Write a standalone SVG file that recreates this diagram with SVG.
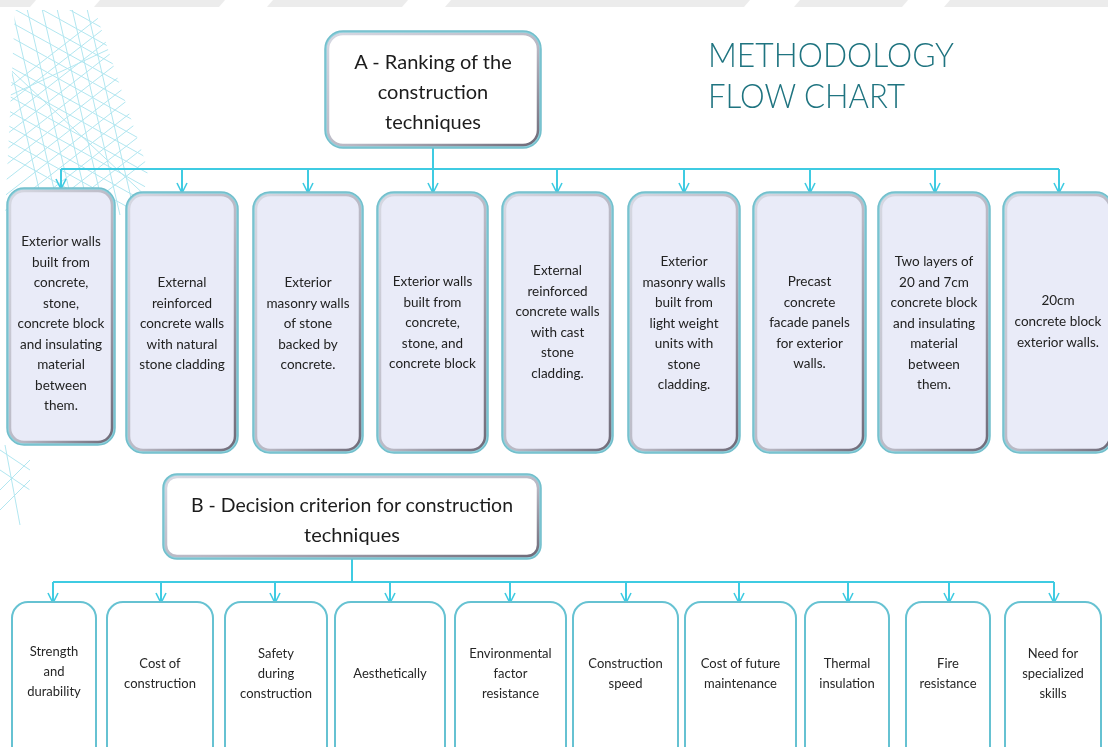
<svg xmlns="http://www.w3.org/2000/svg" width="1108" height="747" viewBox="0 0 1108 747">
<defs>
<style>
.tb{font-family:Lato,"Noto Sans","Liberation Sans",sans-serif;font-size:13.5px;fill:#222222;text-anchor:middle}
.bb{font-family:Lato,"Noto Sans","Liberation Sans",sans-serif;font-size:13px;fill:#262626;text-anchor:middle}
.hd{font-family:Lato,"Noto Sans","Liberation Sans",sans-serif;font-size:20px;fill:#1c1c1c;text-anchor:middle}
.ttl{font-family:Lato,"Open Sans","Liberation Sans",sans-serif;font-weight:300;font-size:34px;fill:#1f7480}
.con{stroke:#3fcbe2;stroke-width:2;fill:none}
.arr{stroke:#3fcbe2;stroke-width:2;fill:none;marker-end:url(#ah)}
.outer{fill:#8fd0dc;stroke:#72bfcc;stroke-width:1.5}
.inner{stroke:url(#sh);stroke-width:2.5}
.lav{fill:#e9ebf8}
.wh{fill:#ffffff}
.crit{fill:#ffffff;stroke:#66c2d2;stroke-width:2}
.hatch{stroke:#7fd6e6;stroke-width:1;fill:none;opacity:0.6}
</style>
<linearGradient id="sh" x1="0" y1="0" x2="1" y2="1">
<stop offset="0" stop-color="#d6d8e2"/>
<stop offset="0.55" stop-color="#b9b8c4"/>
<stop offset="1" stop-color="#6f6a78"/>
</linearGradient>
<marker id="ah" viewBox="0 0 12 12" refX="11" refY="6" markerWidth="12" markerHeight="12" markerUnits="userSpaceOnUse" orient="auto">
<path d="M1,1 L11,6 L1,11" fill="none" stroke="#3fcbe2" stroke-width="1.6"/>
</marker>
<clipPath id="hc1"><polygon points="15,10 95,10 148,170 140,215 5,215"/></clipPath>
<clipPath id="hc2"><polygon points="0,445 35,445 25,525 0,525"/></clipPath>
</defs>

<!-- top watermark band -->
<g id="band" fill="#ececec">
<polygon points="0,0 36,0 30,7 0,7"/>
<polygon points="100,0 225,0 219,7 94,7"/>
<polygon points="273,0 408,0 402,7 267,7"/>
<polygon points="451,0 750,0 744,7 445,7"/>
<polygon points="800,0 908,0 902,7 794,7"/>
<polygon points="950,0 1108,0 1108,7 944,7"/>
</g>

<!-- decorative hatch -->
<g id="hatch" class="hatch">
<g clip-path="url(#hc1)">
<path d="M-20,20 L160,120 M-20,35 L160,135 M-20,50 L160,150 M-20,65 L160,165 M-20,80 L160,180 M-20,95 L160,195 M-20,110 L160,210 M-20,125 L160,225 M-20,140 L160,240 M-20,5 L160,105 M-20,-10 L160,90 M-20,-25 L160,75 M-20,-40 L160,60 M-20,-55 L160,45"/>
<path d="M-20,200 L160,60 M-20,215 L160,75 M-20,185 L160,45 M-20,170 L160,30 M-20,155 L160,15 M-20,140 L160,0 M-20,125 L160,-15 M-20,110 L160,-30 M-20,230 L160,90 M-20,245 L160,105 M-20,260 L160,120 M-20,275 L160,135 M-20,290 L160,150"/>
<path d="M10,0 L60,215 M25,0 L75,215 M40,0 L90,215 M55,0 L105,215 M70,0 L120,215 M85,0 L135,215 M-5,0 L45,215 M0,60 L150,200 M0,100 L150,30"/>
</g>
<g clip-path="url(#hc2)">
<path d="M0,450 L30,470 M0,470 L30,490 M0,490 L30,460 M0,510 L30,480 M5,445 L20,525"/>
</g>
</g>

<!-- title -->
<g id="title">
<text class="ttl" x="708" y="67" textLength="246" lengthAdjust="spacingAndGlyphs">METHODOLOGY</text>
<text class="ttl" x="708" y="108" textLength="197" lengthAdjust="spacingAndGlyphs">FLOW CHART</text>
</g>

<!-- connectors -->
<g id="connectors">
<path class="con" d="M433,148 V169 M61,169 H1059"/>
<path class="arr" d="M61,169 V189"/>
<path class="arr" d="M182,169 V193"/>
<path class="arr" d="M308,169 V193"/>
<path class="arr" d="M433,169 V193"/>
<path class="arr" d="M557,169 V193"/>
<path class="arr" d="M684,169 V193"/>
<path class="arr" d="M810,169 V193"/>
<path class="arr" d="M935,169 V193"/>
<path class="arr" d="M1059,169 V193"/>
<path class="con" d="M352,559 V582 M53,582 H1054"/>
<path class="arr" d="M53,582 V603"/>
<path class="arr" d="M161,582 V603"/>
<path class="arr" d="M275,582 V603"/>
<path class="arr" d="M390,582 V603"/>
<path class="arr" d="M510,582 V603"/>
<path class="arr" d="M626,582 V603"/>
<path class="arr" d="M739,582 V603"/>
<path class="arr" d="M848,582 V603"/>
<path class="arr" d="M949,582 V603"/>
<path class="arr" d="M1054,582 V603"/>
</g>

<!-- A header -->
<g id="nodeA">
<rect class="outer" x="325" y="31" width="216" height="117" rx="18"/>
<rect class="inner wh" x="328" y="34" width="210" height="111" rx="15"/>
<text class="hd" x="433" y="69">A - Ranking of the</text>
<text class="hd" x="433" y="99">construction</text>
<text class="hd" x="433" y="129">techniques</text>
</g>

<!-- technique boxes -->
<g id="t1">
<rect class="outer" x="7" y="188" width="108" height="257" rx="17"/>
<rect class="inner lav" x="10" y="191" width="102" height="251" rx="14"/>
<text class="tb" x="61"><tspan x="61" y="246">Exterior walls</tspan><tspan x="61" y="266.5">built from</tspan><tspan x="61" y="287">concrete,</tspan><tspan x="61" y="307.5">stone,</tspan><tspan x="61" y="328">concrete block</tspan><tspan x="61" y="348.5">and insulating</tspan><tspan x="61" y="369">material</tspan><tspan x="61" y="389.5">between</tspan><tspan x="61" y="410">them.</tspan></text>
</g>
<g id="t2">
<rect class="outer" x="126" y="192" width="112" height="261" rx="17"/>
<rect class="inner lav" x="129" y="195" width="106" height="255" rx="14"/>
<text class="tb"><tspan x="182" y="287">External</tspan><tspan x="182" y="307.5">reinforced</tspan><tspan x="182" y="328">concrete walls</tspan><tspan x="182" y="348.5">with natural</tspan><tspan x="182" y="369">stone cladding</tspan></text>
</g>
<g id="t3">
<rect class="outer" x="253" y="192" width="110" height="261" rx="17"/>
<rect class="inner lav" x="256" y="195" width="104" height="255" rx="14"/>
<text class="tb"><tspan x="308" y="287">Exterior</tspan><tspan x="308" y="307.5">masonry walls</tspan><tspan x="308" y="328">of stone</tspan><tspan x="308" y="348.5">backed by</tspan><tspan x="308" y="369">concrete.</tspan></text>
</g>
<g id="t4">
<rect class="outer" x="377" y="192" width="111" height="261" rx="17"/>
<rect class="inner lav" x="380" y="195" width="105" height="255" rx="14"/>
<text class="tb"><tspan x="432.5" y="286">Exterior walls</tspan><tspan x="432.5" y="306.5">built from</tspan><tspan x="432.5" y="327">concrete,</tspan><tspan x="432.5" y="347.5">stone, and</tspan><tspan x="432.5" y="368">concrete block</tspan></text>
</g>
<g id="t5">
<rect class="outer" x="502" y="192" width="111" height="261" rx="17"/>
<rect class="inner lav" x="505" y="195" width="105" height="255" rx="14"/>
<text class="tb"><tspan x="557.5" y="275">External</tspan><tspan x="557.5" y="295.5">reinforced</tspan><tspan x="557.5" y="316">concrete walls</tspan><tspan x="557.5" y="336.5">with cast</tspan><tspan x="557.5" y="357">stone</tspan><tspan x="557.5" y="377.5">cladding.</tspan></text>
</g>
<g id="t6">
<rect class="outer" x="628" y="192" width="112" height="261" rx="17"/>
<rect class="inner lav" x="631" y="195" width="106" height="255" rx="14"/>
<text class="tb"><tspan x="684" y="266">Exterior</tspan><tspan x="684" y="286.5">masonry walls</tspan><tspan x="684" y="307">built from</tspan><tspan x="684" y="327.5">light weight</tspan><tspan x="684" y="348">units with</tspan><tspan x="684" y="368.5">stone</tspan><tspan x="684" y="389">cladding.</tspan></text>
</g>
<g id="t7">
<rect class="outer" x="753" y="192" width="113" height="261" rx="17"/>
<rect class="inner lav" x="756" y="195" width="107" height="255" rx="14"/>
<text class="tb"><tspan x="809.5" y="286">Precast</tspan><tspan x="809.5" y="306.5">concrete</tspan><tspan x="809.5" y="327">facade panels</tspan><tspan x="809.5" y="347.5">for exterior</tspan><tspan x="809.5" y="368">walls.</tspan></text>
</g>
<g id="t8">
<rect class="outer" x="878" y="192" width="112" height="261" rx="17"/>
<rect class="inner lav" x="881" y="195" width="106" height="255" rx="14"/>
<text class="tb"><tspan x="934" y="266">Two layers of</tspan><tspan x="934" y="286.5">20 and 7cm</tspan><tspan x="934" y="307">concrete block</tspan><tspan x="934" y="327.5">and insulating</tspan><tspan x="934" y="348">material</tspan><tspan x="934" y="368.5">between</tspan><tspan x="934" y="389">them.</tspan></text>
</g>
<g id="t9">
<rect class="outer" x="1003" y="192" width="110" height="261" rx="17"/>
<rect class="inner lav" x="1006" y="195" width="104" height="255" rx="14"/>
<text class="tb"><tspan x="1058" y="305">20cm</tspan><tspan x="1058" y="326">concrete block</tspan><tspan x="1058" y="347">exterior walls.</tspan></text>
</g>

<!-- B header -->
<g id="nodeB">
<rect class="outer" x="163" y="474" width="378" height="85" rx="14"/>
<rect class="inner wh" x="166" y="477" width="372" height="79" rx="11"/>
<text class="hd" x="352" y="512" textLength="322" lengthAdjust="spacingAndGlyphs">B - Decision criterion for construction</text>
<text class="hd" x="352" y="542">techniques</text>
</g>

<!-- criteria boxes -->
<g id="c1"><rect class="crit" x="12" y="602" width="84" height="170" rx="16"/>
<text class="bb"><tspan x="54" y="656">Strength</tspan><tspan x="54" y="676">and</tspan><tspan x="54" y="696">durability</tspan></text></g>
<g id="c2"><rect class="crit" x="107" y="602" width="106" height="170" rx="16"/>
<text class="bb"><tspan x="160" y="668">Cost of</tspan><tspan x="160" y="688">construction</tspan></text></g>
<g id="c3"><rect class="crit" x="225" y="602" width="102" height="170" rx="16"/>
<text class="bb"><tspan x="276" y="658">Safety</tspan><tspan x="276" y="678">during</tspan><tspan x="276" y="698">construction</tspan></text></g>
<g id="c4"><rect class="crit" x="335" y="602" width="110" height="170" rx="16"/>
<text class="bb"><tspan x="390" y="678">Aesthetically</tspan></text></g>
<g id="c5"><rect class="crit" x="455" y="602" width="111" height="170" rx="16"/>
<text class="bb"><tspan x="510.5" y="658">Environmental</tspan><tspan x="510.5" y="678">factor</tspan><tspan x="510.5" y="698">resistance</tspan></text></g>
<g id="c6"><rect class="crit" x="573" y="602" width="105" height="170" rx="16"/>
<text class="bb"><tspan x="625.5" y="668">Construction</tspan><tspan x="625.5" y="688">speed</tspan></text></g>
<g id="c7"><rect class="crit" x="685" y="602" width="111" height="170" rx="16"/>
<text class="bb"><tspan x="740.5" y="668">Cost of future</tspan><tspan x="740.5" y="688">maintenance</tspan></text></g>
<g id="c8"><rect class="crit" x="805" y="602" width="84" height="170" rx="16"/>
<text class="bb"><tspan x="847" y="668">Thermal</tspan><tspan x="847" y="688">insulation</tspan></text></g>
<g id="c9"><rect class="crit" x="906" y="602" width="84" height="170" rx="16"/>
<text class="bb"><tspan x="948" y="668">Fire</tspan><tspan x="948" y="688">resistance</tspan></text></g>
<g id="c10"><rect class="crit" x="1005" y="602" width="96" height="170" rx="16"/>
<text class="bb"><tspan x="1053" y="658">Need for</tspan><tspan x="1053" y="678">specialized</tspan><tspan x="1053" y="698">skills</tspan></text></g>
</svg>
